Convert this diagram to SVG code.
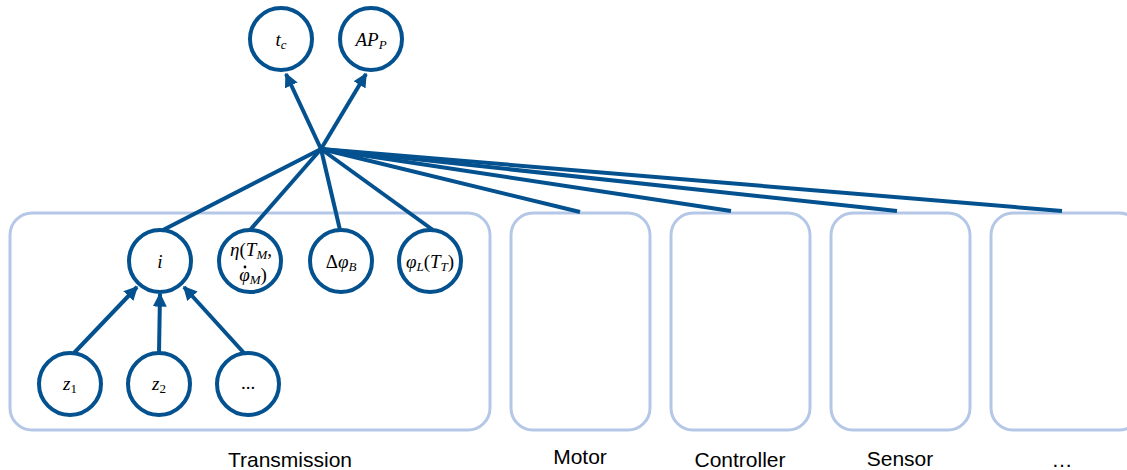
<svg xmlns="http://www.w3.org/2000/svg" width="1127" height="470" viewBox="0 0 1127 470">
  <defs>
    <marker id="arrow" viewBox="0 0 10 10" refX="9" refY="5" markerWidth="14" markerHeight="14" markerUnits="userSpaceOnUse" orient="auto">
      <path d="M0,0 L10,5 L0,10 z" fill="#03518f"/>
    </marker>
  </defs>
  <style>
    .box { fill: none; stroke: #b4c7e7; stroke-width: 3; }
    .node { fill: #ffffff; stroke: #03518f; stroke-width: 4; }
    .edge { stroke: #03518f; stroke-width: 4; fill: none; }
    .math { font-family: "Liberation Serif", "DejaVu Serif", serif; font-style: italic; font-size: 19px; fill: #000; text-anchor: middle; }
    .up { font-style: normal; }
    .sub { font-size: 13px; }
    .label { font-family: "Liberation Sans", Arial, sans-serif; font-size: 21px; fill: #000; text-anchor: middle; }
  </style>

  <!-- component containers -->
  <g id="containers">
    <rect class="box" x="10" y="213" width="480" height="217" rx="22"/>
    <rect class="box" x="511" y="213" width="139" height="217" rx="22"/>
    <rect class="box" x="671" y="213" width="139" height="217" rx="22"/>
    <rect class="box" x="831" y="213" width="139" height="217" rx="22"/>
    <rect class="box" x="991" y="213" width="150" height="217" rx="22"/>
  </g>

  <!-- connectors -->
  <g id="connectors">
    <line class="edge" x1="321" y1="149" x2="286" y2="74" marker-end="url(#arrow)"/>
    <line class="edge" x1="321" y1="149" x2="366" y2="74" marker-end="url(#arrow)"/>
    <line class="edge" x1="321" y1="149" x2="163" y2="230"/>
    <line class="edge" x1="321" y1="149" x2="250" y2="230"/>
    <line class="edge" x1="321" y1="149" x2="340" y2="230"/>
    <line class="edge" x1="321" y1="149" x2="433" y2="230"/>
    <line class="edge" x1="321" y1="149" x2="580" y2="212"/>
    <line class="edge" x1="321" y1="149" x2="731" y2="211"/>
    <line class="edge" x1="321" y1="149" x2="897" y2="211"/>
    <line class="edge" x1="321" y1="149" x2="1062" y2="211"/>
    <line class="edge" x1="74" y1="353" x2="137" y2="287" marker-end="url(#arrow)"/>
    <line class="edge" x1="159" y1="353" x2="160" y2="294" marker-end="url(#arrow)"/>
    <line class="edge" x1="244" y1="353" x2="184" y2="287" marker-end="url(#arrow)"/>
  </g>

  <!-- output nodes -->
  <g id="node-tc">
    <circle class="node" cx="281" cy="39" r="31"/>
    <text class="math" x="281" y="46">t<tspan class="sub" dy="3">c</tspan></text>
  </g>
  <g id="node-APP">
    <circle class="node" cx="371" cy="39" r="31"/>
    <text class="math" x="371" y="46">AP<tspan class="sub" dy="3">P</tspan></text>
  </g>

  <!-- transmission parameters -->
  <g id="node-i">
    <circle class="node" cx="160" cy="261" r="31"/>
    <text class="math" x="160" y="268">i</text>
  </g>
  <g id="node-eta">
    <circle class="node" cx="250" cy="261" r="31"/>
    <text class="math" x="251" y="256">η<tspan class="up">(</tspan>T<tspan class="sub" dy="3">M</tspan><tspan class="up" dy="-3">,</tspan></text>
    <text class="math" x="253" y="281">φ<tspan class="sub" dy="3">M</tspan><tspan class="up" dy="-3">)</tspan></text>
    <!-- time-derivative dot over φ -->
    <circle cx="245" cy="267" r="1.4" fill="#000"/>
  </g>
  <g id="node-dphiB">
    <circle class="node" cx="341" cy="261" r="31"/>
    <text class="math" x="341" y="268"><tspan class="up">Δ</tspan>φ<tspan class="sub" dy="3">B</tspan></text>
  </g>
  <g id="node-phiL">
    <circle class="node" cx="430" cy="261" r="31"/>
    <text class="math" x="430" y="268">φ<tspan class="sub" dy="3">L</tspan><tspan class="up" dy="-3">(</tspan>T<tspan class="sub" dy="3">T</tspan><tspan class="up" dy="-3">)</tspan></text>
  </g>

  <!-- gear tooth counts -->
  <g id="node-z1">
    <circle class="node" cx="70" cy="384" r="31"/>
    <text class="math" x="70" y="390">z<tspan class="sub up" dy="3">1</tspan></text>
  </g>
  <g id="node-z2">
    <circle class="node" cx="159" cy="384" r="31"/>
    <text class="math" x="159" y="390">z<tspan class="sub up" dy="3">2</tspan></text>
  </g>
  <g id="node-zmore">
    <circle class="node" cx="248" cy="384" r="31"/>
    <text class="math up" x="248" y="389">...</text>
  </g>

  <!-- component labels -->
  <g id="labels">
    <text class="label" x="290" y="467">Transmission</text>
    <text class="label" x="580" y="464">Motor</text>
    <text class="label" x="740" y="467">Controller</text>
    <text class="label" x="900" y="466">Sensor</text>
    <text class="label" x="1062" y="467">…</text>
  </g>
</svg>
